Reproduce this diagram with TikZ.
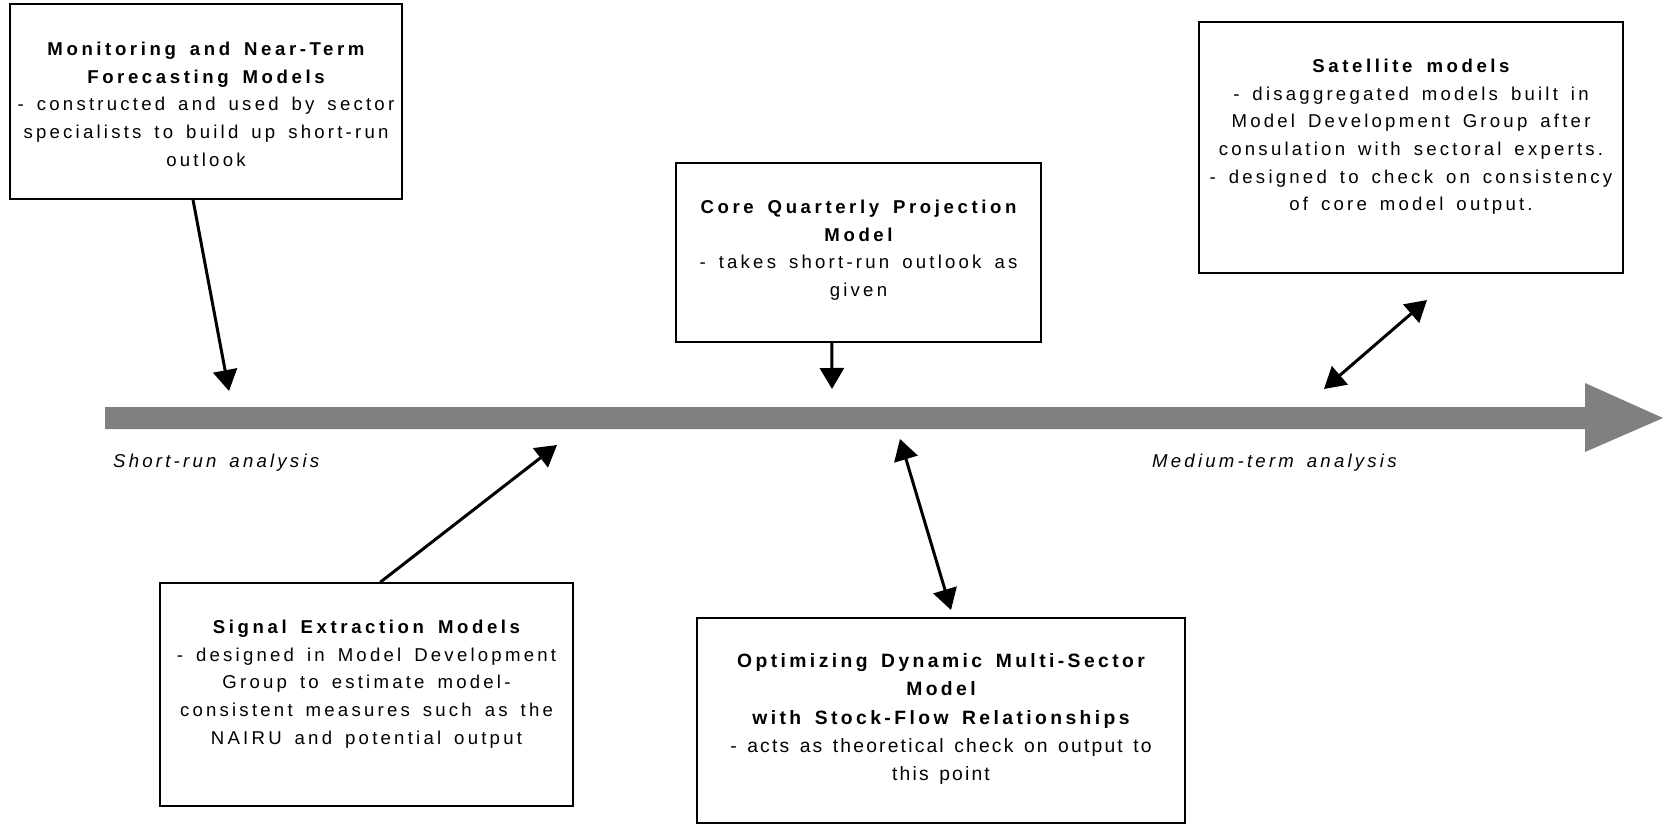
\documentclass[tikz,border=0pt]{standalone}
\usepackage{fontspec}
\setmainfont{Liberation Sans}
\newfontfamily\bodyfont{Liberation Sans}[LetterSpace=17.3,WordSpace=1.55]
\newfontfamily\hdfont{Liberation Sans}[LetterSpace=19.3,WordSpace=1.6]
\newfontfamily\bodyfontv{Liberation Sans}[LetterSpace=11.3,WordSpace=1.4]
\newfontfamily\hdfontv{Liberation Sans}[LetterSpace=17.7,WordSpace=1.55]
\usetikzlibrary{arrows.meta,calc}
\definecolor{bargray}{HTML}{808080}
\newcommand{\hd}[1]{{\hdfont\bfseries #1}}
\newcommand{\hdv}[1]{{\hdfontv\bfseries #1}}
\begin{document}
\begin{tikzpicture}[x=1pt,y=-1pt,
  boxstyle/.style={draw=black,line width=1.5pt,rectangle,inner sep=0pt},
  boxtext/.style={anchor=north,align=center,inner sep=0pt,font=\fontsize{18.6}{27.7}\selectfont\bodyfont},
  boxtextv/.style={anchor=north,align=center,inner sep=0pt,font=\fontsize{19.3}{28.2}\selectfont\bodyfontv},
  axislabel/.style={anchor=base west,inner sep=0pt,font=\fontsize{18.6}{27.7}\selectfont\bodyfont\itshape},
  conn/.style={line width=3pt,-{Triangle[length=21pt,width=24pt]}},
  dconn/.style={line width=3pt,{Triangle[length=21pt,width=24pt]}-{Triangle[length=21pt,width=24pt]}}
]
\path[use as bounding box] (0,0) rectangle (1667,825);

% time axis
\fill[bargray] (105,407) -- (1585,407) -- (1585,383) -- (1663,418) -- (1585,452) -- (1585,429) -- (105,429) -- cycle;
\node[axislabel] (srl) at (113,467) {Short-run analysis};
\node[axislabel] (mtl) at (1152,467) {Medium-term analysis};

% boxes (text node placed with its top one cap height above the first baseline)
\node[boxstyle,minimum width=392pt,minimum height=195pt] (b1) at (206,101.5) {};
\node[boxtext] (b1t) at (206,41.7) {\hd{Monitoring and Near-Term}\\\hd{Forecasting Models}\\- constructed and used by sector\\specialists to build up short-run\\outlook};

\node[boxstyle,minimum width=365pt,minimum height=179pt] (b2) at (858.5,252.5) {};
\node[boxtext] (b2t) at (858.5,199.7) {\hd{Core Quarterly Projection}\\\hd{Model}\\- takes short-run outlook as\\given};

\node[boxstyle,minimum width=424pt,minimum height=251pt] (b3) at (1411,147.5) {};
\node[boxtext] (b3t) at (1411,58.7) {\hd{Satellite models}\\- disaggregated models built in\\Model Development Group after\\consulation with sectoral experts.\\- designed to check on consistency\\of core model output.};

\node[boxstyle,minimum width=413pt,minimum height=223pt] (b4) at (366.5,694.5) {};
\node[boxtext] (b4t) at (366.5,619.7) {\hd{Signal Extraction Models}\\- designed in Model Development\\Group to estimate model-\\consistent measures such as the\\NAIRU and potential output};

\node[boxstyle,minimum width=488pt,minimum height=205pt] (b5) at (941,720.5) {};
\node[boxtextv] (b5t) at (941,653.5) {\hdv{Optimizing Dynamic Multi-Sector}\\\hdv{Model}\\\hdv{with Stock-Flow Relationships}\\- acts as theoretical check on output to\\this point};

% connector ends on the axis
\coordinate (e1) at (229,391);
\coordinate (e2) at (832,389);
\coordinate (e3a) at (1324,389);
\coordinate (e3b) at (1427,300);
\coordinate (e4) at (557,445);
\coordinate (e5a) at (900,439);
\coordinate (e5b) at (951,610);

\draw[conn] ($(b1.south west)!0.467!(b1.south east)$) -- (e1);
\draw[conn] ($(b2.south west)!0.427!(b2.south east)$) -- (e2);
\draw[dconn] (e3a) -- (e3b);
\draw[conn] ($(b4.north west)!0.533!(b4.north east)$) -- (e4);
\draw[dconn] (e5a) -- (e5b);
\end{tikzpicture}
\end{document}
